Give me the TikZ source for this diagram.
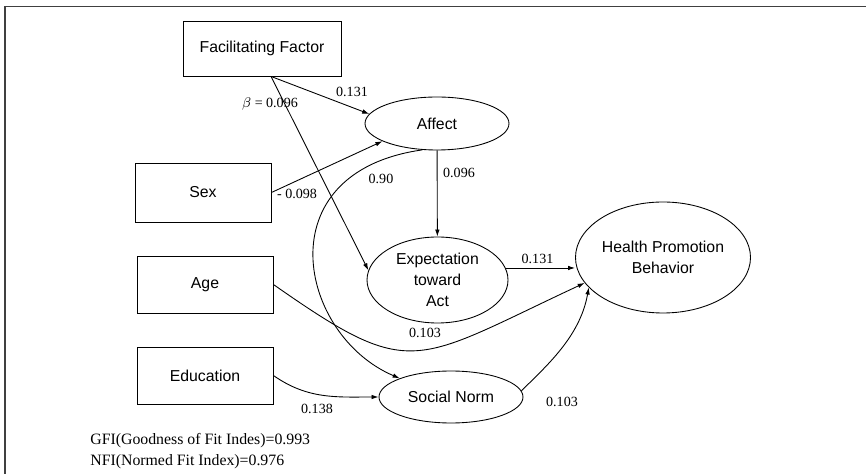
\documentclass[tikz,border=0pt]{standalone}
\usepackage{fontspec}
\setmainfont{Liberation Serif}
\newfontfamily\boxfont{Liberation Sans}
\usetikzlibrary{shapes.geometric,arrows.meta}

\begin{document}
\begin{tikzpicture}[
  box/.style={draw, line width=0.5pt, minimum width=2.72cm, minimum height=1.14cm,
    font=\boxfont\fontsize{9}{11}\selectfont},
  latent/.style={draw, ellipse, line width=0.5pt, inner sep=0pt, align=center,
    font=\boxfont\fontsize{9}{12}\selectfont},
  effect/.style={line width=0.5pt, -{Latex[length=4pt,width=2.6pt]}},
  coef/.style={inner sep=0pt, font=\fontsize{8}{10}\selectfont},
  fit index/.style={anchor=west, inner sep=0pt, font=\fontsize{9}{11}\selectfont}
]
  \useasboundingbox (0,0) rectangle (17.32,-9.48);
  % frame
  \draw[line width=0.8pt, black!75] (0.1,-9.48) -- (0.1,-0.13) -- (17.32,-0.13);

  % observed variables
  \node[box, minimum width=3.16cm, minimum height=1.1cm] (ff) at (5.24,-0.97) {Facilitating Factor};
  \node[box, minimum height=1.18cm] (sex) at (4.06,-3.85) {Sex};
  \node[box] (age) at (4.1,-5.69) {Age};
  \node[box] (edu) at (4.1,-7.51) {Education};

  % latent variables
  \node[latent, minimum width=2.88cm, minimum height=1.06cm] (affect) at (8.74,-2.47) {Affect};
  \node[latent, minimum width=2.82cm, minimum height=1.72cm] (expect) at (8.75,-5.6) {Expectation\\toward\\Act};
  \node[latent, minimum width=2.88cm, minimum height=1.04cm] (social) at (9.02,-7.94) {Social Norm};
  \node[latent, minimum width=3.5cm, minimum height=2.22cm] (hpb) at (13.26,-5.15) {Health Promotion\\Behavior};

  % paths
  \coordinate (ffout) at ([xshift=0.18cm]ff.south);
  \draw[effect] (ffout) -- (affect.172);
  \draw[effect] (ffout) -- (expect.172);
  \draw[effect] (sex.east) -- (affect.198);
  \draw[effect] (affect) -- (expect);
  \draw[effect] (affect.241) .. controls +(188:3.2) and +(157:2.2) .. (social.160);
  \draw[effect] (expect.10) -- (expect.10 -| hpb.west);
  \draw[effect] (age.east) .. controls +(-35:3.4) and +(205:3.8) .. (hpb.198);
  \draw[effect] (edu.east) to[out=-35, in=180] (social.west);
  \draw[effect] (social.5) .. controls +(45:0.7) and +(-100:1.0) .. (hpb.202);

  % coefficients
  \node[coef] (c1) at (7.04,-1.84) {0.131};
  \node[coef] (c2) at (5.4,-2.08) {$\beta$ = 0.096};
  \node[coef] (c3) at (5.94,-3.88) {- 0.098};
  \node[coef] (c4) at (9.18,-3.46) {0.096};
  \node[coef] (c5) at (7.62,-3.58) {0.90};
  \node[coef] (c6) at (10.75,-5.18) {0.131};
  \node[coef] (c7) at (8.5,-6.66) {0.103};
  \node[coef] (c8) at (6.34,-8.18) {0.138};
  \node[coef] (c9) at (11.24,-8.04) {0.103};

  % fit indices
  \node[fit index] (gfi) at (1.8,-8.82) {GFI(Goodness of Fit Indes)=0.993};
  \node[fit index] (nfi) at (1.8,-9.24) {NFI(Normed Fit Index)=0.976};
\end{tikzpicture}
\end{document}
